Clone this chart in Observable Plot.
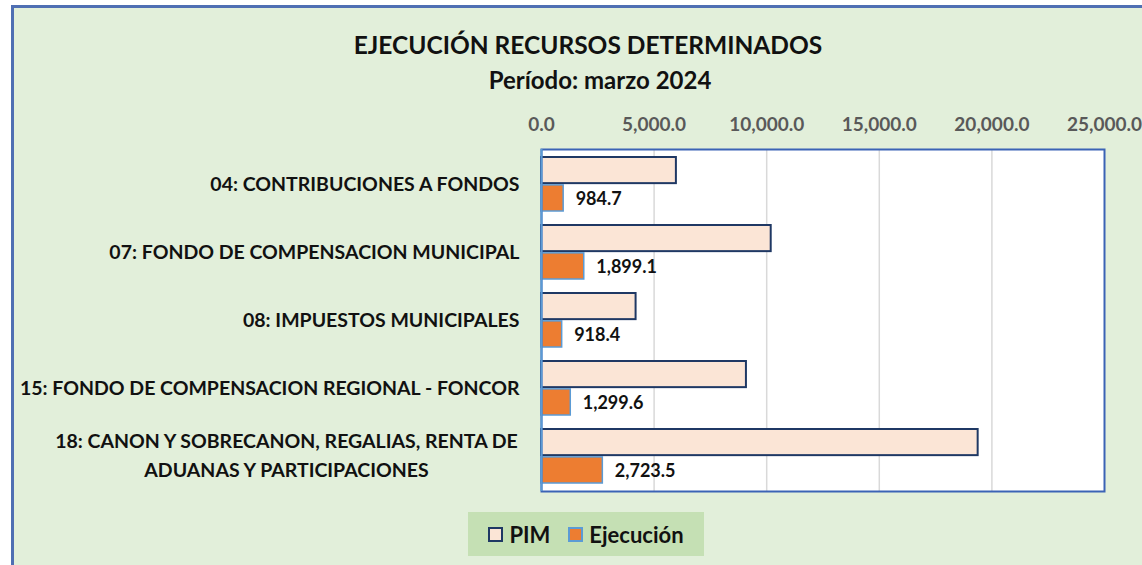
<!DOCTYPE html>
<html>
<head>
<meta charset="utf-8">
<script src="https://cdn.jsdelivr.net/npm/d3@7"></script>
<script src="https://cdn.jsdelivr.net/npm/@observablehq/plot@0.6"></script>
<style>
  html, body { margin: 0; padding: 0; background: #ffffff; width: 1142px; height: 565px; overflow: hidden; }
  body { font-family: Lato, "Open Sans", sans-serif; position: relative; }
  #bg { position: absolute; left: 11px; top: 5px; width: 1140px; height: 570px; background: #e2efda;
        border-left: 3px solid #4f6fb3; border-top: 3px solid #4f6fb3; }
  .title { position: absolute; left: 0; width: 1176px; text-align: center; font-weight: 700; color: #111; }
  #t1 { top: 29px; font-size: 24.5px; line-height: 32px; }
  #t2 { top: 64px; font-size: 24px; line-height: 32px; width: 1200px; }
  #plot { position: absolute; left: 0; top: 100px; }
  #legend { position: absolute; left: 468px; top: 512px; width: 236px; height: 44px; background: #c5e0b4;
            display: flex; align-items: center; justify-content: center; gap: 18px; font-weight: 700; font-size: 22px; color: #111; }
  .item { display: flex; align-items: center; gap: 6px; }
  .sw { width: 11px; height: 11px; display: inline-block; }
</style>
</head>
<body>
<div id="bg"></div>
<div class="title" id="t1">EJECUCIÓN RECURSOS DETERMINADOS</div>
<div class="title" id="t2">Período: marzo 2024</div>
<div id="plot"></div>
<div id="legend"></div>
<script>
// ---- Data ----
const categories = [
  "04: CONTRIBUCIONES A FONDOS",
  "07: FONDO DE COMPENSACION MUNICIPAL",
  "08: IMPUESTOS MUNICIPALES",
  "15: FONDO DE COMPENSACION REGIONAL - FONCOR",
  "18: CANON Y SOBRECANON, REGALIAS, RENTA DE\nADUANAS Y PARTICIPACIONES"
];
const pim = [5990, 10200, 4200, 9100, 19390];
const ejecucion = [984.7, 1899.1, 918.4, 1299.6, 2723.5];
const xTicks = [0, 5000, 10000, 15000, 20000, 25000];
const seriesNames = ["PIM", "Ejecución"];
const seriesFill = ["#fbe5d6", "#ed7d31"];
const seriesStroke = ["#1f3864", "#5b9bd5"];

const rows = categories.map((c, i) => ({cat: c, pim: pim[i], ejec: ejecucion[i]}));
const fmt = d3.format(",.1f");

const marginTop = 49, marginBottom = 19, height = 410;
const inner = height - marginTop - marginBottom;
const step = inner / (categories.length - 0.2 + 0.2);
const bw = step * 0.8;
const half = bw / 2;

const singleLine = categories.filter(c => !c.includes("\n"));
const multiLine = categories.filter(c => c.includes("\n"));

const chart = Plot.plot({
  width: 1142,
  height,
  marginLeft: 541,
  marginRight: 38,
  marginTop,
  marginBottom,
  style: {background: "transparent", fontFamily: "Lato, 'Open Sans', sans-serif", overflow: "visible"},
  x: {domain: [0, 25000], axis: null},
  y: {domain: categories, paddingInner: 0.2, paddingOuter: 0.1, axis: null},
  marks: [
    Plot.frame({fill: "#ffffff", stroke: null}),
    Plot.gridX(xTicks.slice(1, -1), {stroke: "#d9d9d9", strokeOpacity: 1, strokeWidth: 1.5}),
    Plot.axisX({anchor: "top", ticks: xTicks, tickSize: 0, tickPadding: 19, tickFormat: fmt,
      fontSize: 19, fontWeight: "bold", fill: "#595959", label: null}),
    Plot.barX(rows, {x: "pim", y: "cat", insetBottom: half + 0.5, fill: seriesFill[0], stroke: seriesStroke[0], strokeWidth: 2}),
    Plot.barX(rows, {x: "ejec", y: "cat", insetTop: half + 0.5, fill: seriesFill[1], stroke: seriesStroke[1], strokeWidth: 1.5}),
    Plot.text(rows, {x: "ejec", y: "cat", text: d => fmt(d.ejec), dx: 12, dy: half / 2 + 1, textAnchor: "start",
      fontSize: 18, fontWeight: "bold", fill: "#111"}),
    Plot.frame({stroke: "#3b63b5", strokeWidth: 2}),
    Plot.ruleX([0], {stroke: "#5b9bd5", strokeWidth: 2}),
    Plot.axisY({ticks: singleLine, tickSize: 0, tickPadding: 22, textAnchor: "end",
      fontSize: 19.5, fontWeight: "bold", fill: "#111", label: null}),
    Plot.axisY({ticks: multiLine, tickSize: 0, tickPadding: 255, textAnchor: "middle", lineHeight: 1.5, dy: -3,
      fontSize: 19.5, fontWeight: "bold", fill: "#111", label: null})
  ]
});
document.getElementById("plot").appendChild(chart);

// legend
const legend = document.getElementById("legend");
seriesNames.forEach((name, i) => {
  const item = document.createElement("div");
  item.className = "item";
  const sw = document.createElement("span");
  sw.className = "sw";
  sw.style.background = seriesFill[i];
  sw.style.border = `2px solid ${seriesStroke[i]}`;
  const label = document.createElement("span");
  label.textContent = name;
  item.appendChild(sw);
  item.appendChild(label);
  legend.appendChild(item);
});
</script>
</body>
</html>
